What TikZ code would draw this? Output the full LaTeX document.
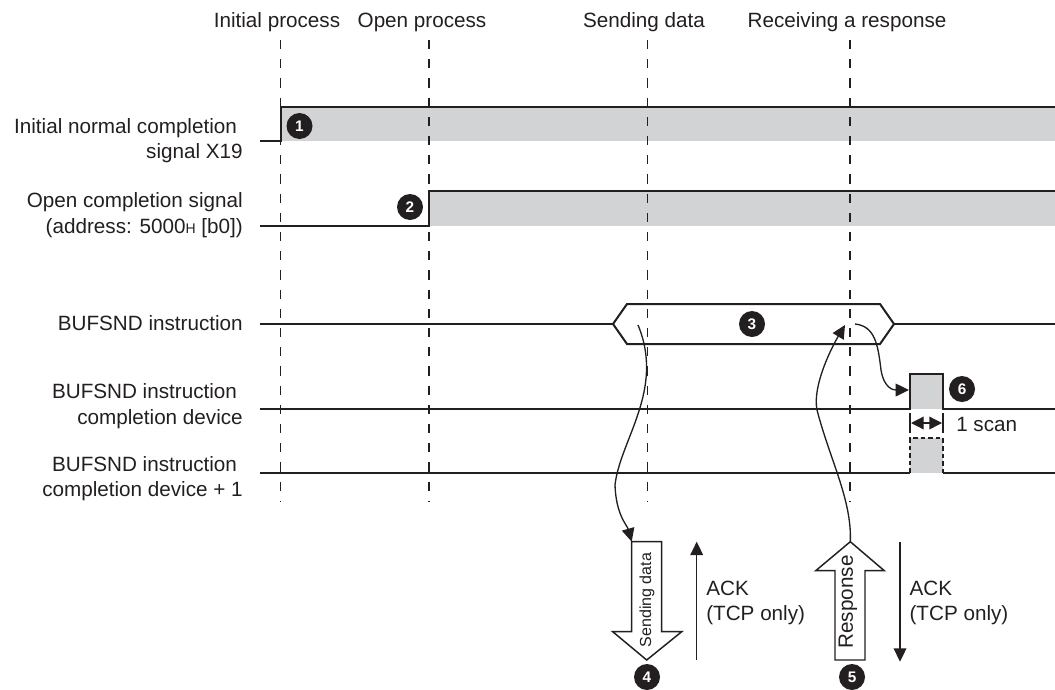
\documentclass[tikz,border=0pt]{standalone}
\usepackage{fontspec}
\setmainfont{Liberation Sans}
\usetikzlibrary{arrows.meta, positioning}
\definecolor{cLine}{RGB}{35,31,32}
\definecolor{cGray}{RGB}{209,211,212}
\tikzset{
	wave/.style    ={line width=1.5pt, draw=cLine},
	onbar/.style   ={fill=cGray, draw=none},
	guide/.style   ={draw=cLine, line width=0.9pt, dash pattern=on 6.9pt off 7.5pt},
	stepno/.style  ={circle, fill=cLine, text=white, minimum size=19.5pt, inner sep=0pt, font=\bfseries\fontsize{11.5pt}{12pt}\selectfont},
	signame/.style ={anchor=east, align=right, inner sep=0pt},
	phase/.style   ={anchor=base, inner sep=0pt},
	% message arrows
	flow/.style    ={-{Triangle[length=10pt, width=9.5pt]}, line width=1pt, draw=cLine},
	frame/.style   ={draw=cLine, line width=1.1pt, fill=white, line join=miter},
}

\begin{document}
\begin{tikzpicture}[x=0.75pt, y=-0.75pt, every node/.style={font=\fontsize{15.5pt}{19pt}\selectfont, text=cLine}]
	\useasboundingbox (0,0) rectangle (1055,689);
	% phases
	\node[phase] (tinit) at (277,27) {Initial process};
	\node[phase] (topen) at (422,27) {Open process};
	\node[phase] (tsend) at (644,27) {Sending data};
	\node[phase] (trecv) at (847,27) {Receiving a response};
	% signal names
	\node[signame] (sx19) at (243,140.5) {Initial normal completion\kern.28em\\signal X19};
	\node[signame] (sopen) at (243,215) {Open completion signal\\(address: 5000{\fontsize{10.5pt}{12pt}\selectfont H} [b0])};
	\node[signame] (sbuf) at (243,323) {BUFSND instruction};
	\node[signame] (sdone) at (243,406) {BUFSND instruction\kern.28em\\completion device};
	\node[signame] (sdone1) at (243,478.5) {BUFSND instruction\kern.28em\\completion device + 1};
	% on states
	\fill[onbar] (281,107) rectangle (1055,141);
	\fill[onbar] (429,191) rectangle (1055,226);
	\fill[onbar] (910,374) rectangle (943,409);
	\fill[onbar] (910,438) rectangle (943,473);
	\foreach \gx in {280.5,429,647.5,850} \draw[guide] (\gx,40) -- (\gx,502);
	% waveforms
	\draw[wave] (260,141) -- (281,141) -- (281,107) -- (1055,107);
	\draw[wave] (260,226) -- (429,226) -- (429,191) -- (1055,191);
	\draw[wave] (260,324) -- (613,324);
	\draw[wave] (613,324) -- (627,304) -- (880,304) -- (894,324) -- (880,344) -- (627,344) -- cycle;
	\draw[wave] (894,324) -- (1055,324);
	\draw[wave] (260,409) -- (910,409) -- (910,374) -- (943,374) -- (943,409) -- (1055,409);
	\draw[wave] (260,473) -- (910,473);
	\draw[wave, dash pattern=on 3.5pt off 2.2pt] (910,473) -- (910,438) -- (943,438) -- (943,473);
	\draw[wave] (943,473) -- (1055,473);
	% one scan
	\draw[wave] (910,413) -- (910,433) (943,413) -- (943,433);
	\draw[{Triangle[length=9.5pt, width=9.5pt]}-{Triangle[length=9.5pt, width=9.5pt]}, line width=1pt, draw=cLine] (911,423) -- (942,423);
	\node[anchor=west, inner sep=0pt] (scan) at (956,424) {1 scan};
	% data and response
	\draw[frame] (631.7,541.7) -- (661.7,541.7) -- (661.7,631.7) -- (681.7,631.7) -- (646.7,660) -- (612.7,631.7) -- (631.7,631.7) -- cycle;
	\node[rotate=90, inner sep=0pt, font=\fontsize{12pt}{14pt}\selectfont] (sendbox) at (647,600) {Sending data};
	\draw[frame] (835,660) -- (865,660) -- (865,570.7) -- (884.3,570.7) -- (850.3,541.7) -- (815.7,570.7) -- (835,570.7) -- cycle;
	\node[rotate=90, inner sep=0pt] (respbox) at (848,602) {Response};
	\coordinate (ack1lo) at (696.7,660);
	\coordinate (ack1hi) at (696.7,541.7);
	\coordinate (ack1mid) at (696.7,603);
	\draw[flow] (ack1lo) -- (ack1hi);
	\node[align=left, inner sep=0pt, right=7pt of ack1mid] (ack1) {ACK\\(TCP only)};
	\coordinate (ack2hi) at (900,541.7);
	\coordinate (ack2lo) at (900,661.7);
	\coordinate (ack2mid) at (900,603);
	\draw[flow] (ack2hi) -- (ack2lo);
	\node[align=left, inner sep=0pt, right=7pt of ack2mid] (ack2) {ACK\\(TCP only)};
	% connectors
	\coordinate (busout) at (638,325);
	\coordinate (sendin) at (631.7,541.7);
	\coordinate (respout) at (850.3,541.7);
	\coordinate (busin) at (845,325);
	\coordinate (busend) at (855,324);
	\coordinate (pulsein) at (909,390);
	\draw[flow] (busout) .. controls (665,390) and (620,440) .. (615,485) .. controls (616,515) and (627,525) .. (sendin);
	\draw[flow] (respout) .. controls (852,500) and (830,460) .. (817,410) .. controls (812,385) and (833,345) .. (busin);
	\draw[flow] (busend) .. controls (875,326) and (878,345) .. (881,370) .. controls (884,388) and (893,390) .. (pulsein);
	% steps
	\node[stepno] (n1) at (299.5,126) {1};
	\node[stepno] (n2) at (410,207) {2};
	\node[stepno] (n3) at (752,324) {3};
	\node[stepno] (n4) at (647,677) {4};
	\node[stepno] (n5) at (852,677) {5};
	\node[stepno] (n6) at (962,389) {6};
\end{tikzpicture}
\end{document}
